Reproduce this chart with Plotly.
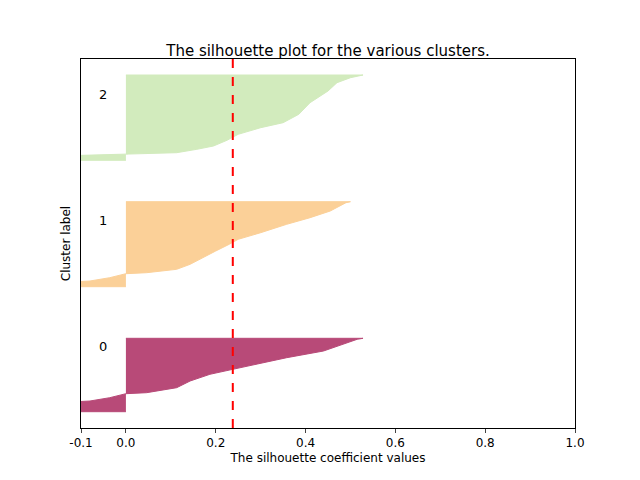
import plotly.graph_objects as go

# silhouette values per cluster (sorted), with their vertical positions
cluster0_y = [16.3, 25.3, 27, 30.3, 34.3, 35.3, 40.3, 47, 53.7, 58.7, 63.7, 70.3, 77, 83.7, 88.7, 89.7]
cluster0_x = [-0.15, -0.15, -0.08, -0.036, 0.0, 0.046, 0.113, 0.143, 0.187, 0.238, 0.29, 0.358, 0.44, 0.484, 0.515, 0.528]

cluster1_y = [141.3, 145.3, 147, 150.3, 154.3, 155.3, 158.7, 163.7, 170.3, 177, 183.7, 188.7, 195.3, 203.7, 210.3, 217, 225.3, 226.3]
cluster1_x = [-0.15, -0.15, -0.08, -0.036, 0.0, 0.046, 0.113, 0.143, 0.173, 0.2, 0.23, 0.25, 0.3, 0.358, 0.41, 0.455, 0.49, 0.5]

cluster2_y = [267.7, 272, 273.7, 275.3, 278.7, 282, 287.7, 293.7, 300.3, 305.3, 313.7, 325.3, 337, 345.3, 350.3, 353]
cluster2_x = [-0.15, -0.15, -0.005, 0.113, 0.158, 0.195, 0.225, 0.25, 0.3, 0.35, 0.385, 0.41, 0.45, 0.47, 0.5, 0.528]

labels = ['0', '1', '2']
label_y = [82, 208, 334]
colors = ['#b84a78', '#fbd098', '#d2ebbd']
silhouette_avg = 0.238
xticks = [-0.1, 0.0, 0.2, 0.4, 0.6, 0.8, 1.0]

fig = go.Figure()
for xs, ys, color in [(cluster0_x, cluster0_y, colors[0]),
                      (cluster1_x, cluster1_y, colors[1]),
                      (cluster2_x, cluster2_y, colors[2])]:
    fig.add_trace(go.Scatter(
        x=[0] + xs + [0],
        y=[ys[0]] + ys + [ys[-1]],
        mode='lines',
        fill='toself',
        fillcolor=color,
        line=dict(color=color, width=1),
        showlegend=False,
        hoverinfo='none'))

for label, y in zip(labels, label_y):
    fig.add_annotation(x=-0.05, y=y, text=label, showarrow=False,
                       font=dict(size=13, color='black'))

fig.add_shape(type='line', x0=silhouette_avg, x1=silhouette_avg, y0=0, y1=1,
              yref='paper', line=dict(color='red', width=2, dash='dash'))

fig.update_layout(
    width=640, height=480,
    margin=dict(l=73, r=73, t=51, b=60),
    plot_bgcolor='white',
    paper_bgcolor='white',
    font=dict(family='DejaVu Sans', size=12, color='black'),
    title=dict(text='The silhouette plot for the various clusters.', x=0.5,
               y=0.91, xanchor='center', yanchor='middle', font=dict(size=15)),
    xaxis=dict(
        range=[-0.1, 1.0],
        tickvals=xticks,
        ticktext=['%.1f' % t for t in xticks],
        tickfont=dict(size=12),
        showline=True, linecolor='black', linewidth=1, mirror=True,
        ticks='outside', ticklen=4, showgrid=False, zeroline=False,
        title=dict(text='The silhouette coefficient values', standoff=4,
                   font=dict(size=12))),
    yaxis=dict(
        range=[0, 369],
        showticklabels=False,
        showline=True, linecolor='black', linewidth=1, mirror=True,
        showgrid=False, zeroline=False,
        title=dict(text='Cluster label', standoff=6, font=dict(size=12))))

fig.write_html('out.html')
